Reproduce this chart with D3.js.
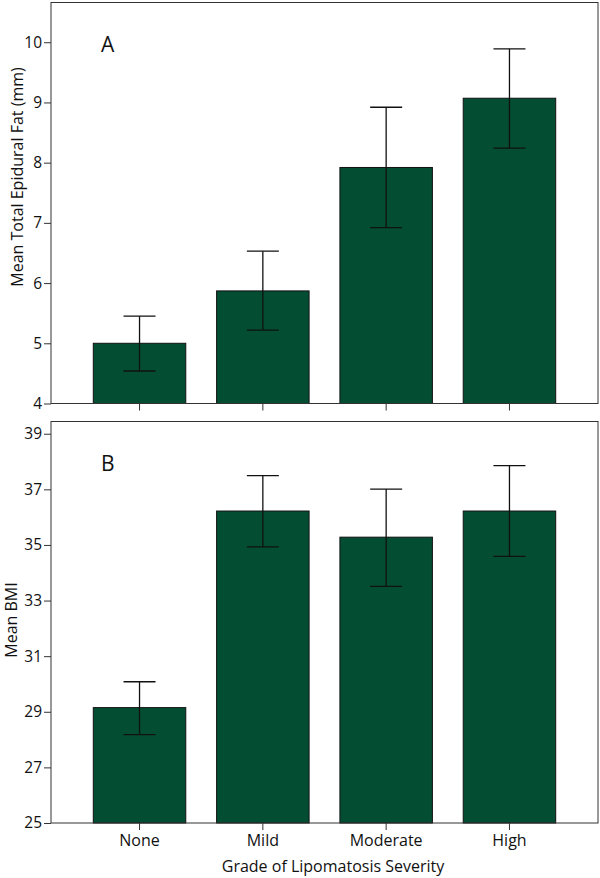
<!DOCTYPE html>
<html>
<head>
<meta charset="utf-8">
<script src="https://cdn.jsdelivr.net/npm/d3@7"></script>
<style>
  html, body { margin: 0; padding: 0; background: #fff; }
  svg { display: block; }
  text { font-family: "Open Sans", "Noto Sans", sans-serif; fill: #111; }
</style>
</head>
<body>
<svg id="chart" width="600" height="878"></svg>
<script>
// ---- data ----
const categories = ["None", "Mild", "Moderate", "High"];
const fatMean = [5.00, 5.87, 7.92, 9.07];
const fatLow  = [4.54, 5.22, 6.92, 8.24];
const fatHigh = [5.45, 6.53, 8.92, 9.89];
const fatTicks = [4, 5, 6, 7, 8, 9, 10];
const bmiMean = [29.15, 36.22, 35.28, 36.22];
const bmiLow  = [28.18, 34.93, 33.51, 34.59];
const bmiHigh = [30.08, 37.49, 37.01, 37.85];
const bmiTicks = [25, 27, 29, 31, 33, 35, 37, 39];
const panelLabels = ["A", "B"];
const yTitles = ["Mean Total Epidural Fat (mm)", "Mean BMI"];
const xTitle = "Grade of Lipomatosis Severity";

const svg = d3.select("#chart");
const left = 51, right = 598;
const barColor = "#034e33";

const x = d3.scaleBand().domain(categories).range([left, right])
  .paddingInner(0.25).paddingOuter(0.343);

const panels = [
  { mean: fatMean, lo: fatLow, hi: fatHigh, ticks: fatTicks, domain: [4, 10.66], range: [403.5, 2.5], label: panelLabels[0], title: yTitles[0], titleX: 23, titleY: 177, xLabels: false },
  { mean: bmiMean, lo: bmiLow, hi: bmiHigh, ticks: bmiTicks, domain: [25, 39.44], range: [823, 421.5], label: panelLabels[1], title: yTitles[1], titleX: 17, titleY: 620, xLabels: true }
];

panels.forEach(p => {
  const y = d3.scaleLinear().domain(p.domain).range(p.range);
  const g = svg.append("g");

  // bars
  g.selectAll("rect.bar").data(categories).join("rect")
    .attr("class", "bar")
    .attr("x", d => x(d))
    .attr("width", x.bandwidth())
    .attr("y", (d, i) => y(p.mean[i]))
    .attr("height", (d, i) => y(p.domain[0]) - y(p.mean[i]))
    .attr("fill", barColor)
    .attr("stroke", "#111")
    .attr("stroke-width", 1);

  // error bars
  const capW = 16;
  const eb = g.selectAll("g.err").data(categories).join("g").attr("class", "err");
  eb.append("line")
    .attr("x1", d => x(d) + x.bandwidth() / 2).attr("x2", d => x(d) + x.bandwidth() / 2)
    .attr("y1", (d, i) => y(p.lo[i])).attr("y2", (d, i) => y(p.hi[i]))
    .attr("stroke", "#111").attr("stroke-width", 1.3);
  [p.lo, p.hi].forEach(arr => {
    eb.append("line")
      .attr("x1", d => x(d) + x.bandwidth() / 2 - capW).attr("x2", d => x(d) + x.bandwidth() / 2 + capW)
      .attr("y1", (d, i) => y(arr[i])).attr("y2", (d, i) => y(arr[i]))
      .attr("stroke", "#111").attr("stroke-width", 1.3);
  });

  // frame
  g.append("rect")
    .attr("x", left).attr("y", p.range[1])
    .attr("width", right - left).attr("height", p.range[0] - p.range[1])
    .attr("fill", "none").attr("stroke", "#333").attr("stroke-width", 1);

  // y axis
  const ya = g.append("g").attr("transform", `translate(${left},0)`)
    .call(d3.axisLeft(y).tickValues(p.ticks).tickSize(7).tickPadding(2).tickFormat(d3.format("d")));
  ya.select(".domain").remove();
  ya.selectAll("line").attr("stroke", "#333");
  ya.selectAll("text").attr("font-size", 15.5).attr("fill", "#111")
    .style("font-family", "'Open Sans', sans-serif");

  // x axis
  const xa = g.append("g").attr("transform", `translate(0,${p.range[0]})`)
    .call(d3.axisBottom(x).tickSize(7).tickPadding(5));
  xa.select(".domain").remove();
  xa.selectAll("line").attr("stroke", "#333");
  if (p.xLabels) {
    xa.selectAll("text").attr("font-size", 16).attr("fill", "#111")
      .style("font-family", "'Open Sans', sans-serif");
  } else {
    xa.selectAll("text").remove();
  }

  // panel label
  g.append("text").attr("x", 101).attr("y", p.range[1] + 49)
    .attr("font-size", 21).text(p.label);

  // y title
  g.append("text")
    .attr("transform", `translate(${p.titleX},${p.titleY}) rotate(-90)`)
    .attr("text-anchor", "middle")
    .attr("font-size", 16)
    .text(p.title);
});

svg.append("text").attr("x", 333).attr("y", 872)
  .attr("text-anchor", "middle").attr("font-size", 16).text(xTitle);
</script>
</body>
</html>
